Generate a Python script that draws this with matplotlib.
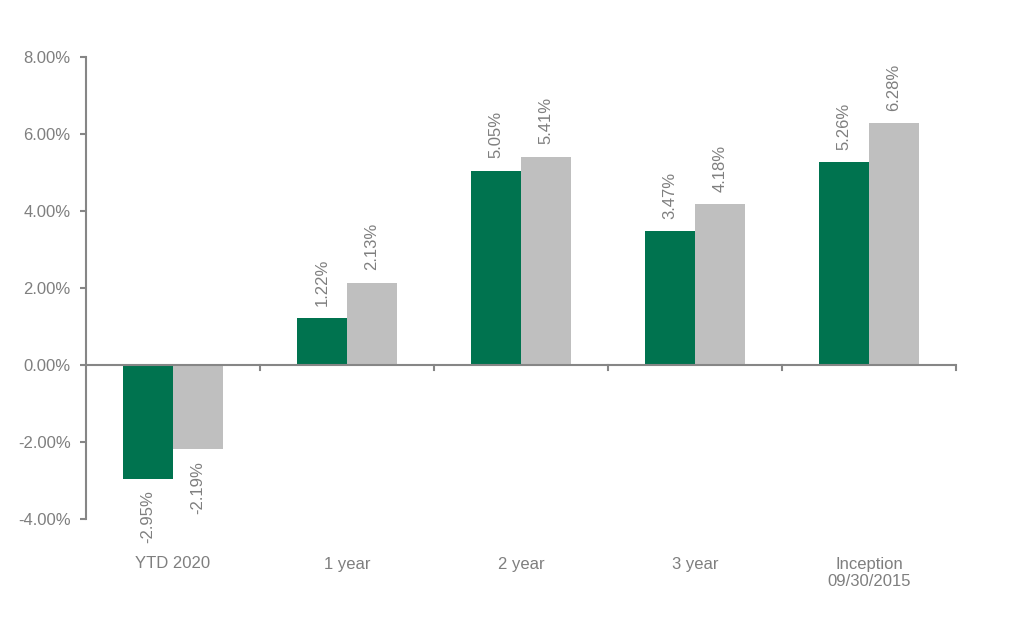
import matplotlib
matplotlib.use("Agg")
import matplotlib.pyplot as plt
import numpy as np

categories = ["YTD 2020", "1 year", "2 year", "3 year", "Inception\n09/30/2015"]
fund = [-2.95, 1.22, 5.05, 3.47, 5.26]
benchmark = [-2.19, 2.13, 5.41, 4.18, 6.28]
yticks = [-4, -2, 0, 2, 4, 6, 8]

plt.rcParams['font.family'] = ['Liberation Sans', 'DejaVu Sans']
fig = plt.figure(figsize=(10.16, 6.24), dpi=100)
ax = fig.add_axes([86/1016, 105/624, 870/1016, 462/624])

x = np.arange(len(categories))
w = 0.287
green = "#00734F"
grey = "#BFBFBF"
ax.bar(x - w/2, fund, w, color=green)
ax.bar(x + w/2, benchmark, w, color=grey)

txtc = "#7F7F7F"
for xs, vals in ((x - w/2, fund), (x + w/2, benchmark)):
    for xi, v in zip(xs, vals):
        if v >= 0:
            ax.annotate(f"{v:.2f}%", (xi, v), xytext=(0, 9), textcoords="offset points",
                        rotation=90, ha="center", va="bottom", fontsize=12, color=txtc)
        else:
            ax.annotate(f"{v:.2f}%", (xi, v), xytext=(0, -8.5), textcoords="offset points",
                        rotation=90, ha="center", va="top", fontsize=12, color=txtc)

ax.set_xlim(-0.5, len(categories) - 0.5)
ax.set_ylim(-4, 8)
ax.set_yticks(yticks)
ax.set_yticklabels([f"{t:.2f}%" for t in yticks], fontsize=12, color=txtc)

spc = "#868686"
for s in ("top", "right", "bottom"):
    ax.spines[s].set_visible(False)
ax.spines["left"].set_color(spc)
ax.spines["left"].set_linewidth(1.5)
ax.tick_params(axis="y", direction="out", length=4, width=1.5, color=spc, pad=7)

# x axis line at zero with boundary ticks
ax.axhline(0, color=spc, linewidth=1.5, zorder=3)
for b in np.arange(0.5, len(categories), 1.0):
    ax.plot([b, b], [0, -0.13], color=spc, linewidth=1.5, clip_on=False, zorder=3)
ax.set_xticks(x)
ax.set_xticklabels(categories, fontsize=12, color=txtc)
ax.tick_params(axis="x", length=0, pad=27)

fig.savefig("out.png", dpi=100)
